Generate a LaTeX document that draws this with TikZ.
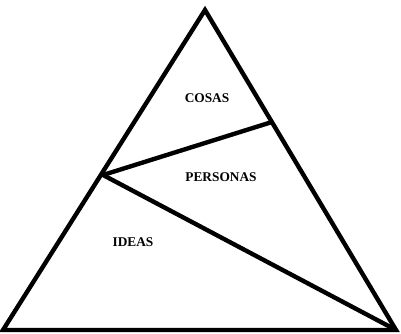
\documentclass[tikz,border=0pt]{standalone}
\usepackage{fontspec}
\setmainfont{Liberation Serif}
\begin{document}
\begin{tikzpicture}[x=0.75pt,y=-0.75pt,
  edge/.style={line width=3.3pt,line join=miter,line cap=butt},
  lbl/.style={font=\fontsize{10}{12}\selectfont\bfseries,inner sep=0pt}]
\useasboundingbox (0,0) rectangle (401,334);
\coordinate (top) at (205,10);
\coordinate (bl) at (3,330);
\coordinate (br) at (396,330);
\coordinate (pl) at (103,175);
\coordinate (pr) at (272,122);
\draw[edge] (bl) -- (top) -- (br) -- cycle;
\draw[edge] (pl) -- (pr);
\draw[edge] (pl) -- (br);
\node[lbl] (cosas) at (207,98) {COSAS};
\node[lbl] (personas) at (221,177) {PERSONAS};
\node[lbl] (ideas) at (133,242) {IDEAS};
\end{tikzpicture}
\end{document}
